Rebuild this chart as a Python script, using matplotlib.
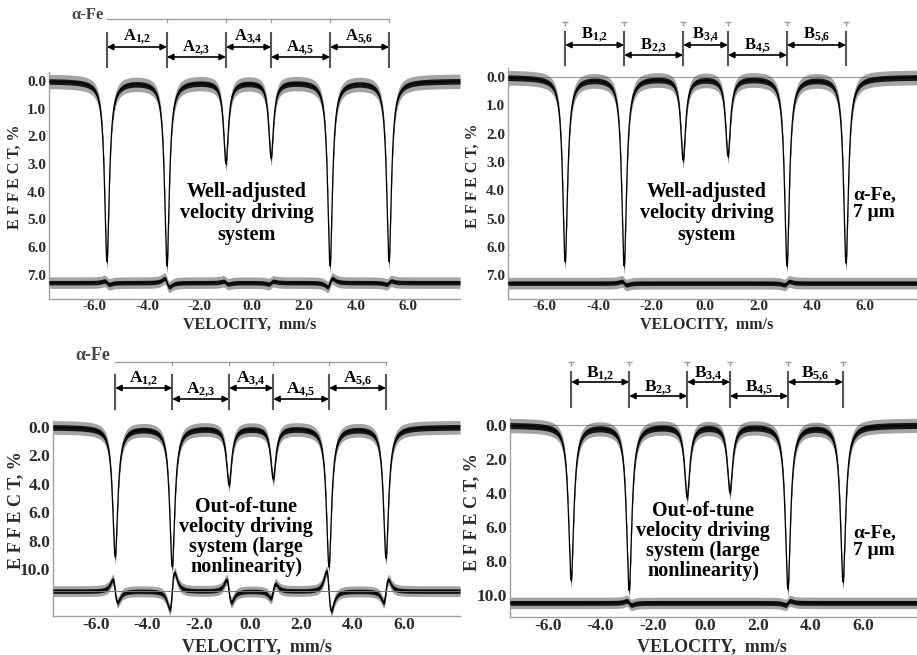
import numpy as np
import matplotlib
matplotlib.use('Agg')
import matplotlib.pyplot as plt
from matplotlib.transforms import blended_transform_factory

plt.rcParams['font.family'] = ['Liberation Serif', 'DejaVu Serif']
plt.rcParams['font.weight'] = 'bold'
plt.rcParams['mathtext.fontset'] = 'custom'
plt.rcParams['mathtext.rm'] = 'Liberation Serif:bold'
plt.rcParams['mathtext.bf'] = 'Liberation Serif:bold'
plt.rcParams['mathtext.it'] = 'Liberation Serif:bold'
plt.rcParams['mathtext.default'] = 'bf'

W, H = 917, 655

# line positions (mm/s), dip depths (%) and residual wiggles
tl_pos = [-5.54, -3.24, -0.98, 0.75, 3.01, 5.27]
tl_depth = [6.5, 6.65, 2.95, 2.75, 6.65, 6.5]
tl_resid = [0.06, 0.15, 0.05, -0.05, -0.15, -0.06]

tr_pos = [-5.24, -3.03, -0.82, 0.86, 3.07, 5.28]
tr_depth = [6.5, 6.65, 2.9, 2.75, 6.65, 6.55]
tr_resid = [0.0, 0.06, 0.0, 0.0, -0.06, 0.0]

bl_pos = [-5.25, -3.03, -0.82, 0.90, 3.07, 5.29]
bl_depth = [9.1, 9.8, 4.0, 3.6, 9.8, 9.2]
bl_resid = [0.8, -1.3, 0.8, -0.5, 1.4, -0.8]

br_pos = [-5.12, -2.91, -0.70, 0.93, 3.14, 5.24]
br_depth = [9.1, 9.7, 4.2, 3.9, 9.6, 9.2]
br_resid = [0.0, 0.12, 0.0, 0.0, -0.12, 0.0]

top_yticks = [0.0, 1.0, 2.0, 3.0, 4.0, 5.0, 6.0, 7.0]
bot_yticks = [0.0, 2.0, 4.0, 6.0, 8.0, 10.0]
xticks = [-6.0, -4.0, -2.0, 0.0, 2.0, 4.0, 6.0]


def px_axes(l, r, t, b):
    return [l / W, 1 - b / H, (r - l) / W, (b - t) / H]


def fy(p):
    return 1 - p / H


def spectrum(v, pos, depth, hw):
    y = np.zeros_like(v)
    for p, d in zip(pos, depth):
        y += d * hw ** 2 / ((v - p) ** 2 + hw ** 2)
    return y


def residual(v, base, pos, amp, hw):
    # derivative-of-Lorentzian wiggle left by a misplaced line, peak height = amp
    r = np.full_like(v, base)
    for p, a in zip(pos, amp):
        u = (v - p) / hw
        r += a * (u / (1 + u ** 2) ** 2) / 0.325
    return r


def noisy_band(ax, v, y, core, outer):
    ax.fill_between(v, y - outer, y + outer, color='#5a5a5a', alpha=0.55, lw=0, zorder=2)
    ax.fill_between(v, y - core, y + core, color='#161616', lw=0, zorder=3)
    ax.plot(v, y, color='k', lw=0.9, zorder=4)


def panel(rect, xlim, ylim, yticks, pos, depth, hw, base, resid, band, fs, zero_line=False, base_line=False):
    ax = fig.add_axes(px_axes(*rect))
    v = np.linspace(xlim[0], xlim[1], 3000)
    if zero_line:
        ax.axhline(0, color='#9a9a9a', lw=0.8, zorder=1)
    noisy_band(ax, v, spectrum(v, pos, depth, hw), band[0], band[1])
    noisy_band(ax, v, residual(v, base, pos, resid, 0.16), band[0] * 0.8, band[1] * 0.8)
    if base_line:
        ax.axhline(base, color='#777777', lw=0.7, zorder=5)
    ax.set_xlim(xlim)
    ax.set_ylim(ylim)
    ax.set_xticks(xticks)
    ax.set_xticklabels(['%.1f' % t for t in xticks])
    ax.set_yticks(yticks)
    ax.set_yticklabels(['%.1f' % t for t in yticks])
    ax.tick_params(length=0, pad=2, labelsize=fs, labelcolor='#2a2a2a')
    ax.tick_params(axis='x', pad=1)
    for s in ['top', 'right']:
        ax.spines[s].set_visible(False)
    for s in ['left', 'bottom']:
        ax.spines[s].set_color('#a0a0a0')
        ax.spines[s].set_linewidth(1.0)
    ax.set_facecolor('none')
    return ax


def brackets(ax, pos, letter, top, bot, up, low, lab_up, lab_low, fs):
    tr = blended_transform_factory(ax.transData, fig.transFigure)
    for p in pos:
        ax.plot([p, p], [fy(top), fy(bot)], color='#555555', lw=1.5, transform=tr, clip_on=False)
    for i in range(5):
        ya = up if i % 2 == 0 else low
        yl = lab_up if i % 2 == 0 else lab_low
        ax.annotate('', xy=(pos[i], fy(ya)), xytext=(pos[i + 1], fy(ya)), xycoords=tr, textcoords=tr,
                    arrowprops=dict(arrowstyle='<|-|>', color='k', lw=1.2, mutation_scale=9,
                                    shrinkA=0, shrinkB=0))
        ax.text((pos[i] + pos[i + 1]) / 2, fy(yl), '%s$_{%d{,}%d}$' % (letter, i + 1, i + 2),
                transform=tr, ha='center', va='center', fontsize=fs, fontweight='bold')
    return tr


fig = plt.figure(figsize=(W / 100, H / 100), dpi=100)

# top left
ax1 = panel((49, 460, 72, 299), (-7.76, 7.99), (7.87, -0.32), top_yticks,
            tl_pos, tl_depth, 0.11, 7.28, tl_resid, (0.1, 0.26), 11)
tr1 = brackets(ax1, tl_pos, 'A', 33, 67, 47, 57, 37, 48, 12)
ax1.plot([tl_pos[0], tl_pos[-1]], [fy(19), fy(19)], color='#9a9a9a', lw=0.9, transform=tr1, clip_on=False)
for p in tl_pos[1:]:
    ax1.plot([p, p], [fy(19), fy(22)], color='#9a9a9a', lw=0.9, transform=tr1, clip_on=False)
fig.text(104 / W, fy(15), 'α-Fe', ha='right', va='center', fontsize=12, color='#444444')

# top right
ax2 = panel((508, 917, 68, 299), (-7.38, 7.94), (7.84, -0.32), top_yticks,
            tr_pos, tr_depth, 0.11, 7.28, tr_resid, (0.1, 0.26), 11, zero_line=True)
tr2 = brackets(ax2, tr_pos, 'B', 32, 65, 45, 55, 35, 46, 12)
for p in tr_pos:
    ax2.plot([p], [fy(22)], marker='_', ms=5, color='#9a9a9a', transform=tr2, clip_on=False)
    ax2.plot([p], [fy(22)], marker=3, ms=3, color='#9a9a9a', transform=tr2, clip_on=False)

# bottom left
ax3 = panel((53, 460, 421, 616), (-7.67, 8.17), (13.3, -0.42), bot_yticks,
            bl_pos, bl_depth, 0.12, 11.55, bl_resid, (0.2, 0.48), 12.5, base_line=True)
tr3 = brackets(ax3, bl_pos, 'A', 375, 409, 388, 399, 379, 390, 12.5)
ax3.plot([bl_pos[0], bl_pos[-1]], [fy(362), fy(362)], color='#9a9a9a', lw=0.9, transform=tr3, clip_on=False)
for p in bl_pos[1:]:
    ax3.plot([p, p], [fy(362), fy(365)], color='#9a9a9a', lw=0.9, transform=tr3, clip_on=False)
fig.text(110 / W, fy(355), 'α-Fe', ha='right', va='center', fontsize=13, color='#444444')

# bottom right
ax4 = panel((510, 917, 418, 617), (-7.45, 8.06), (11.3, -0.41), bot_yticks,
            br_pos, br_depth, 0.12, 10.47, br_resid, (0.18, 0.42), 12.5, zero_line=True)
tr4 = brackets(ax4, br_pos, 'B', 372, 407, 382, 396, 374, 388, 12.5)
for p in br_pos:
    ax4.plot([p], [fy(362)], marker='_', ms=5, color='#9a9a9a', transform=tr4, clip_on=False)
    ax4.plot([p], [fy(362)], marker=3, ms=3, color='#9a9a9a', transform=tr4, clip_on=False)

# axis titles
for x, y, fs in [(15, 177, 11.5), (473, 176, 11.5), (16, 510, 13), (472, 512, 13)]:
    fig.text(x / W, fy(y), 'E F F E C T, %', rotation=90, ha='center', va='center',
             fontsize=fs, color='#2a2a2a')
for x, y, fs in [(250, 325, 11.5), (707, 325, 11.5), (257, 647, 13), (712, 647, 13)]:
    fig.text(x / W, fy(y), 'VELOCITY,  mm/s', ha='center', va='center', fontsize=fs, color='#2a2a2a')

# notes inside panels
good = 'Well-adjusted\nvelocity driving\nsystem'
bad = 'Out-of-tune\nvelocity driving\nsystem (large\nnonlinearity)'
fig.text(247 / W, fy(213), good, ha='center', va='center', fontsize=14.5, linespacing=1.1)
fig.text(707 / W, fy(213), good, ha='center', va='center', fontsize=14.5, linespacing=1.1)
fig.text(246 / W, fy(537), bad, ha='center', va='center', fontsize=14.5, linespacing=0.98)
fig.text(703 / W, fy(541), bad, ha='center', va='center', fontsize=14.5, linespacing=0.98)
fig.text(853 / W, fy(204), 'α-Fe,\n7 μm', ha='left', va='center', fontsize=14, linespacing=1.05)
fig.text(853 / W, fy(542), 'α-Fe,\n7 μm', ha='left', va='center', fontsize=14, linespacing=1.05)

fig.savefig('out.png', dpi=100)
